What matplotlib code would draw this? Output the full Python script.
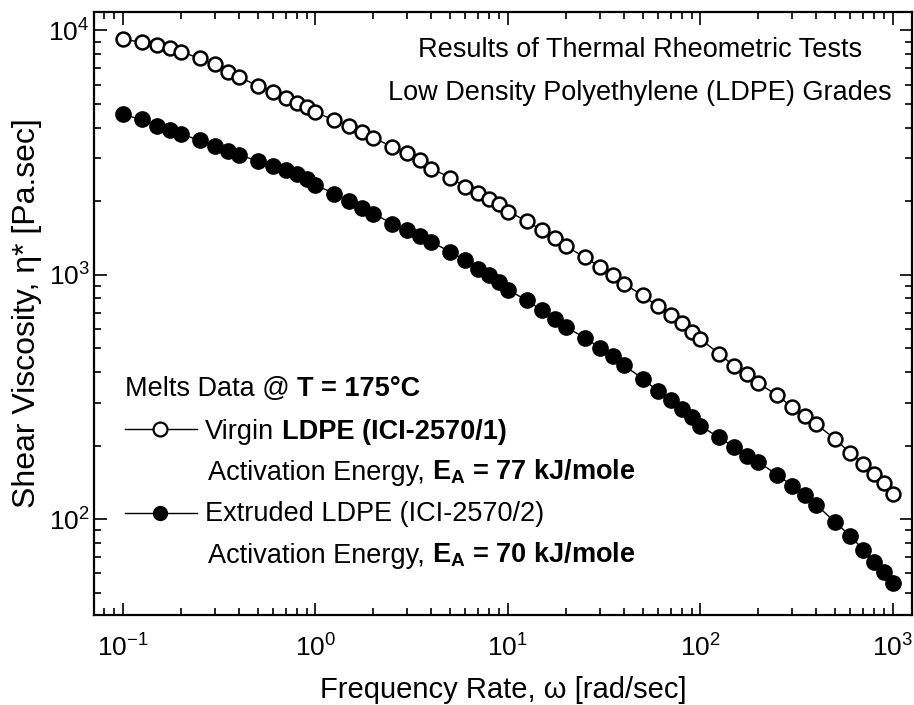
import matplotlib
matplotlib.use("Agg")
import matplotlib.pyplot as plt
from matplotlib.lines import Line2D
from matplotlib.offsetbox import TextArea, HPacker, AnnotationBbox
from matplotlib.ticker import LogLocator, LogFormatterMathtext, NullFormatter

plt.rcParams['font.family'] = ['Liberation Sans', 'DejaVu Sans']
plt.rcParams['mathtext.fontset'] = 'custom'
plt.rcParams['mathtext.rm'] = 'Liberation Sans'
plt.rcParams['mathtext.it'] = 'Liberation Sans:italic'
plt.rcParams['mathtext.bf'] = 'Liberation Sans:bold'

# Frequency rate (rad/sec)
freq = [0.1, 0.125, 0.15, 0.175, 0.2, 0.25, 0.3, 0.35, 0.4, 0.5, 0.6, 0.7, 0.8, 0.9,
        1, 1.25, 1.5, 1.75, 2, 2.5, 3, 3.5, 4, 5, 6, 7, 8, 9,
        10, 12.5, 15, 17.5, 20, 25, 30, 35, 40, 50, 60, 70, 80, 90,
        100, 125, 150, 175, 200, 250, 300, 350, 400, 500, 600, 700, 800, 900,
        1000]

# Virgin LDPE (ICI-2570/1) shear viscosity (Pa.sec)
virgin = [9200, 8950, 8720, 8450, 8190, 7690, 7270, 6780, 6470, 5930, 5610, 5300, 5030, 4840,
          4620, 4300, 4060, 3850, 3640, 3340, 3140, 2950, 2720, 2500, 2290, 2160, 2050, 1945,
          1815, 1660, 1520, 1410, 1310, 1180, 1077, 1000, 920, 824, 743, 682, 634, 583,
          545, 475, 422, 394, 360, 321, 287, 265, 244, 213, 186, 168, 153, 140,
          127]

# Extruded LDPE (ICI-2570/2) shear viscosity (Pa.sec)
extruded = [4530, 4320, 4060, 3900, 3760, 3560, 3370, 3220, 3090, 2930, 2800, 2690, 2595, 2460,
            2330, 2150, 2000, 1880, 1780, 1620, 1520, 1440, 1365, 1240, 1148, 1060, 995, 935,
            870, 785, 716, 661, 611, 553, 503, 464, 426, 376, 334, 306, 283, 261,
            240, 216, 197, 182, 171, 152, 137, 125, 114.5, 97, 85.5, 74.8, 66.5, 60.5,
            54.6]

xlabel = "Frequency Rate, \u03c9 [rad/sec]"
ylabel = "Shear Viscosity, \u03b7* [Pa.sec]"
title1 = "Results of Thermal Rheometric Tests"
title2 = "Low Density Polyethylene (LDPE) Grades"

# legend block lines: list of (text, weight) parts
leg_title = [("Melts Data @", "normal"), ("T = 175\u00b0C", "bold")]
leg_virgin = [("Virgin", "normal"), ("LDPE (ICI-2570/1)", "bold")]
leg_virgin_ea = [("Activation Energy,", "normal"), (r"$\mathbf{E_{A}}$ = 77 kJ/mole", "bold")]
leg_extr = [("Extruded LDPE (ICI-2570/2)", "normal")]
leg_extr_ea = [("Activation Energy,", "normal"), (r"$\mathbf{E_{A}}$ = 70 kJ/mole", "bold")]

FS_TEXT = 19.5

fig = plt.figure(figsize=(9.14, 7.05), dpi=100)
ax = fig.add_axes([0.1028, 0.1277, 0.895, 0.8553])

ax.plot(freq, virgin, '-o', color='black', lw=1.0, ms=10,
        markerfacecolor='white', markeredgecolor='black', markeredgewidth=1.8)
ax.plot(freq, extruded, '-o', color='black', lw=1.0, ms=11,
        markerfacecolor='black', markeredgecolor='black', markeredgewidth=1.0)

ax.set_xscale('log')
ax.set_yscale('log')
ax.set_xlim(0.0707, 1255)
ax.set_ylim(40.5, 11900)

ax.xaxis.set_major_locator(LogLocator(base=10, numticks=10))
ax.yaxis.set_major_locator(LogLocator(base=10, numticks=10))
ax.xaxis.set_minor_locator(LogLocator(base=10, subs=range(2, 10), numticks=20))
ax.yaxis.set_minor_locator(LogLocator(base=10, subs=range(2, 10), numticks=20))
ax.xaxis.set_major_formatter(LogFormatterMathtext())
ax.yaxis.set_major_formatter(LogFormatterMathtext())
ax.xaxis.set_minor_formatter(NullFormatter())
ax.yaxis.set_minor_formatter(NullFormatter())

ax.tick_params(which='both', direction='in', top=True, right=True, width=1.2, labelsize=19)
ax.tick_params(which='major', length=9)
ax.tick_params(which='minor', length=5)
ax.tick_params(axis='x', which='major', pad=14)
ax.tick_params(axis='y', which='major', pad=3)
for s in ax.spines.values():
    s.set_linewidth(1.6)

ax.set_xlabel(xlabel, fontsize=21, labelpad=10)
ax.set_ylabel(ylabel, fontsize=23, labelpad=5)

ax.text(0.6675, 0.9254, title1, transform=ax.transAxes, ha='center', va='baseline', fontsize=19.5)
ax.text(0.6675, 0.854, title2, transform=ax.transAxes, ha='center', va='baseline', fontsize=19.5)


def rich_line(parts, x, yc, size=FS_TEXT):
    children = [TextArea(t, textprops=dict(fontsize=size, fontweight=w)) for t, w in parts]
    box = HPacker(children=children, align='baseline', pad=0, sep=size * 0.278)
    ab = AnnotationBbox(box, (x, yc), xycoords='axes fraction', box_alignment=(0, 0.5),
                        frameon=False, pad=0)
    ax.add_artist(ab)


rich_line(leg_title, 0.0379, 0.3748)
ax.add_line(Line2D([0.0379, 0.0807, 0.1259], [0.3085] * 3, transform=ax.transAxes,
                   color='black', lw=1.0, marker='o', markevery=[1], ms=10,
                   markerfacecolor='white', markeredgecolor='black', markeredgewidth=1.6))
rich_line(leg_virgin, 0.1357, 0.3035)
rich_line(leg_virgin_ea, 0.1394, 0.2371)
ax.add_line(Line2D([0.0379, 0.0807, 0.1259], [0.1697] * 3, transform=ax.transAxes,
                   color='black', lw=1.0, marker='o', markevery=[1], ms=10,
                   markerfacecolor='black', markeredgecolor='black'))
rich_line(leg_extr, 0.1357, 0.1675)
rich_line(leg_extr_ea, 0.1394, 0.0995)

fig.savefig("out.png", dpi=100)
